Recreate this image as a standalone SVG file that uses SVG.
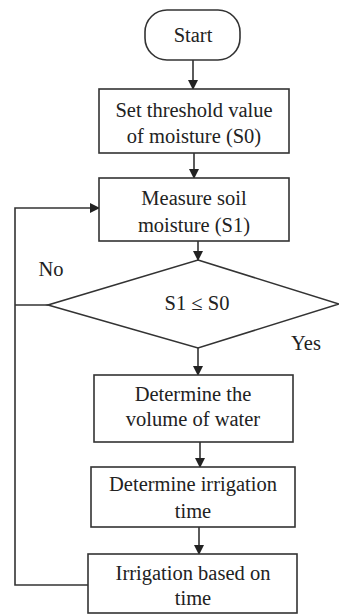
<svg xmlns="http://www.w3.org/2000/svg" width="339" height="614" viewBox="0 0 339 614">
<style>
.n{fill:#fff;stroke:#333;stroke-width:1.6}
.c{fill:none;stroke:#333;stroke-width:1.6}
text{font-family:"Liberation Serif","Times New Roman",serif;font-size:20.5px;fill:#222;text-anchor:middle}
</style>
<defs>
<marker id="ah" markerWidth="10" markerHeight="10" refX="9" refY="5" orient="auto" markerUnits="userSpaceOnUse">
<path d="M0,0 L10,5 L0,10 Z" fill="#222"/>
</marker>
</defs>
<rect width="339" height="614" fill="#fff"/>
<g id="connectors">
<line class="c" x1="193" y1="60" x2="193" y2="89" marker-end="url(#ah)"/>
<line class="c" x1="194" y1="153" x2="194" y2="178" marker-end="url(#ah)"/>
<line class="c" x1="198" y1="241" x2="198" y2="260" marker-end="url(#ah)"/>
<line class="c" x1="198" y1="348" x2="198" y2="375" marker-end="url(#ah)"/>
<line class="c" x1="200" y1="442" x2="200" y2="467" marker-end="url(#ah)"/>
<line class="c" x1="199" y1="527" x2="199" y2="554" marker-end="url(#ah)"/>
<polyline class="c" points="88,585 15,585 15,208 99,208" marker-end="url(#ah)"/>
<line class="c" x1="48" y1="305" x2="15" y2="305"/>
<text x="51" y="276">No</text>
<text x="306" y="350">Yes</text>
</g>
<g id="start">
<rect class="n" x="145" y="10" width="95" height="50" rx="22" ry="22"/>
<text x="193" y="42">Start</text>
</g>
<g id="threshold">
<rect class="n" x="99" y="89" width="190" height="64"/>
<text x="194" y="117">Set threshold value</text>
<text x="194" y="143">of moisture (S0)</text>
</g>
<g id="measure">
<rect class="n" x="99" y="178" width="190" height="63"/>
<text x="194" y="205">Measure soil</text>
<text x="194" y="232">moisture (S1)</text>
</g>
<g id="decision">
<polygon class="n" points="198,260 339,304 198,348 48,305"/>
<text x="197" y="310">S1 ≤ S0</text>
</g>
<g id="volume">
<rect class="n" x="94" y="375" width="199" height="67"/>
<text x="193" y="401">Determine the</text>
<text x="193" y="426">volume of water</text>
</g>
<g id="irrtime">
<rect class="n" x="91" y="467" width="204" height="60"/>
<text x="193" y="491">Determine irrigation</text>
<text x="193" y="518">time</text>
</g>
<g id="irrigate">
<rect class="n" x="88" y="554" width="209" height="59"/>
<text x="193" y="580">Irrigation based on</text>
<text x="193" y="605">time</text>
</g>
</svg>
